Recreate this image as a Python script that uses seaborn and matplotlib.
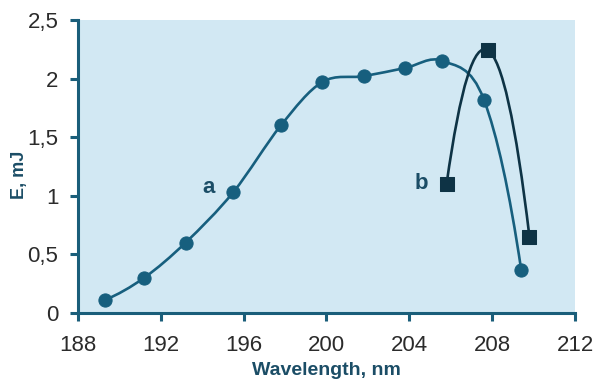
import numpy as np
import matplotlib
matplotlib.use("Agg")
from matplotlib import pyplot as plt
from matplotlib.path import Path
from matplotlib.patches import PathPatch
import seaborn as sns
import pandas as pd

# data
wl_a = [189.3, 191.2, 193.2, 195.5, 197.8, 199.8, 201.8, 203.8, 205.6, 207.6, 209.4]
e_a = [0.11, 0.30, 0.60, 1.03, 1.60, 1.97, 2.02, 2.09, 2.15, 1.82, 0.37]
wl_b = [205.8, 207.8, 209.8]
e_b = [1.10, 2.24, 0.65]

x_ticks = [188, 192, 196, 200, 204, 208, 212]
y_ticks = [0, 0.5, 1, 1.5, 2, 2.5]
y_tick_labels = ['0', '0,5', '1', '1,5', '2', '2,5']

col_a = '#175f7e'
col_b = '#0e3345'
spine_col = '#1a5e7a'
bg_col = '#d2e8f3'
lab_col = '#1b4d66'


def smooth_path(xs, ys):
    # smoothed line like excel: catmull-rom tangents inside, bessel-type ends,
    # drawn as cubic bezier segments through the data points
    pts = np.column_stack([xs, ys]).astype(float)
    n = len(pts)
    m = np.zeros_like(pts)
    for i in range(1, n - 1):
        m[i] = (pts[i + 1] - pts[i - 1]) / 2
    m[0] = 2 * (pts[1] - pts[0]) - m[1]
    m[-1] = 2 * (pts[-1] - pts[-2]) - m[-2]
    verts = [pts[0]]
    codes = [Path.MOVETO]
    for i in range(n - 1):
        verts += [pts[i] + m[i] / 3, pts[i + 1] - m[i + 1] / 3, pts[i + 1]]
        codes += [Path.CURVE4] * 3
    return Path(verts, codes)


sns.set_style('ticks')
plt.rcParams['font.family'] = ['Liberation Sans', 'DejaVu Sans']

df_a = pd.DataFrame({'wl': wl_a, 'E': e_a})
df_b = pd.DataFrame({'wl': wl_b, 'E': e_b})

fig = plt.figure(figsize=(6.04, 3.83), dpi=100)
ax = fig.add_axes([0.129, 0.183, 0.823, 0.765])
ax.set_facecolor(bg_col)

ax.add_patch(PathPatch(smooth_path(wl_a, e_a), facecolor='none', edgecolor=col_a, lw=1.9, zorder=2))
ax.add_patch(PathPatch(smooth_path(wl_b, e_b), facecolor='none', edgecolor=col_b, lw=1.9, zorder=2))
sns.scatterplot(data=df_a, x='wl', y='E', ax=ax, marker='o', s=90, color=col_a, edgecolor=col_a, zorder=3)
sns.scatterplot(data=df_b, x='wl', y='E', ax=ax, marker='s', s=90, color=col_b, edgecolor=col_b, zorder=3)

ax.text(194.3, 1.07, 'a', fontsize=16, fontweight='bold', color=lab_col, ha='center', va='center')
ax.text(204.6, 1.10, 'b', fontsize=16, fontweight='bold', color=lab_col, ha='center', va='center')

ax.set_xlim(188, 212)
ax.set_ylim(0, 2.5)
ax.set_xticks(x_ticks)
ax.set_yticks(y_ticks)
ax.set_yticklabels(y_tick_labels)
ax.tick_params(axis='both', labelsize=16, labelcolor='#2b2b2b', color=spine_col,
               width=2.2, length=6, direction='out')
ax.tick_params(axis='x', pad=10)
ax.tick_params(axis='y', pad=8)

for side in ['top', 'right']:
    ax.spines[side].set_visible(False)
for side in ['left', 'bottom']:
    ax.spines[side].set_color(spine_col)
    ax.spines[side].set_linewidth(2.2)

ax.set_xlabel('Wavelength, nm', fontsize=14, fontweight='bold', color=lab_col, labelpad=4)
ax.set_ylabel('E, mJ', fontsize=13, fontweight='bold', color=lab_col, va='center')
ax.yaxis.set_label_coords(-0.117, 0.47)

fig.savefig('out.png', dpi=100)
